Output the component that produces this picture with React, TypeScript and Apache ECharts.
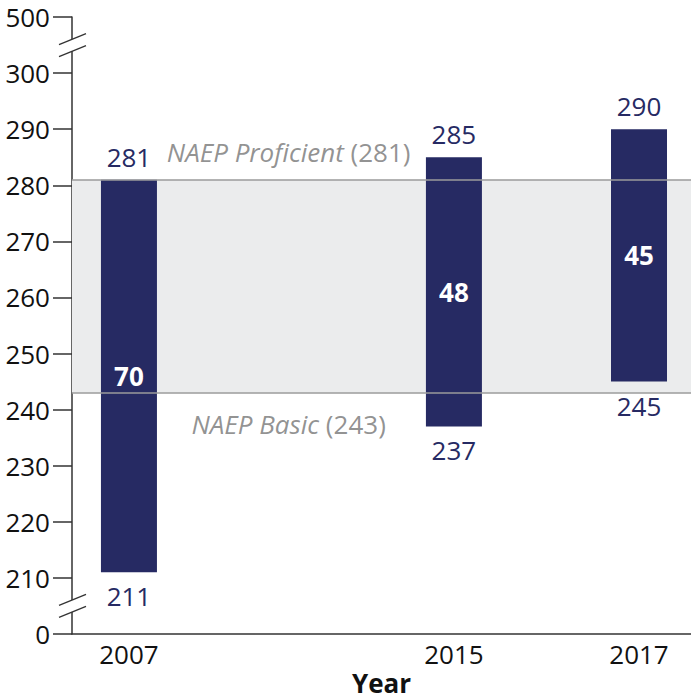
import React, { useEffect, useRef } from "react";
import * as echarts from "echarts";

// Data
const years = ["2007", "2015", "2017"];
const xSlots = [0.92, 6.17, 9.16]; // horizontal slot of each year on the axis (0..10)
const lowScores = [211, 237, 245];
const highScores = [281, 285, 290];
const gaps = [70, 48, 45];
const proficient = 281;
const basic = 243;
const yTickLabels: Record<number, string> = { 200: "0", 310: "500" };
const bandLabelSlot = 3.5;

const NAVY = "#262a63";
const FONT = "Open Sans";
const AXIS = "#333333";
const FS = 26;

export default function App() {
  const ref = useRef<HTMLDivElement>(null);
  useEffect(() => {
    if (!ref.current) return;
    document.body.style.margin = "0";
    const chart = echarts.init(ref.current, null, { renderer: "svg" });
    const barData = years.map((y, i) => [xSlots[i], lowScores[i], highScores[i], gaps[i]]);
    const option: any = {
      animation: false,
      grid: { left: 72, right: 0, top: 17, bottom: 66, containLabel: false, outerBoundsMode: "none" },
      xAxis: {
        type: "value",
        min: 0,
        max: 10,
        splitLine: { show: false },
        axisLine: { show: true, lineStyle: { color: AXIS, width: 1.5 } },
        axisTick: { show: false },
        axisLabel: {
          customValues: xSlots,
          formatter: (v: number) => {
            const i = xSlots.findIndex((s) => Math.abs(s - v) < 1e-6);
            return i >= 0 ? years[i] : "";
          },
          fontFamily: FONT,
          fontSize: FS,
          color: "#111",
          margin: 7,
        },
        name: "Year",
        nameLocation: "middle",
        nameGap: 37,
        nameMoveOverlap: false,
        nameTextStyle: { fontFamily: FONT, fontSize: FS, lineHeight: 24, fontWeight: "bold", color: "#111" },
      },
      yAxis: {
        type: "value",
        min: 200,
        max: 310,
        interval: 10,
        splitLine: { show: false },
        axisLine: { show: true, lineStyle: { color: AXIS, width: 1.5 } },
        axisTick: { show: true, inside: false, length: 19, lineStyle: { color: AXIS, width: 1.5 } },
        axisLabel: {
          formatter: (v: number) => (yTickLabels[v] !== undefined ? yTickLabels[v] : String(v)),
          fontFamily: FONT,
          fontSize: FS,
          color: "#111",
          margin: 22,
        },
      },
      series: [
        {
          type: "scatter",
          symbolSize: 0,
          silent: true,
          z: 1,
          data: [
            { value: [bandLabelSlot, proficient], label: { position: "top", distance: 15, formatter: `{i|NAEP Proficient }{n|(${proficient})}` } },
            { value: [bandLabelSlot, basic], label: { position: "bottom", distance: 18, formatter: `{i|NAEP Basic }{n|(${basic})}` } },
          ],
          label: {
            show: true,
            rich: {
              i: { fontFamily: FONT, fontSize: FS, fontStyle: "italic", color: "#767676" },
              n: { fontFamily: FONT, fontSize: FS, color: "#767676" },
            },
          },
          markArea: {
            silent: true,
            itemStyle: { color: "#ebeced" },
            data: [[{ yAxis: basic }, { yAxis: proficient }]],
          },
          markLine: {
            silent: true,
            symbol: ["none", "none"],
            label: { show: false },
            lineStyle: { color: "#9b9b9b", width: 1.5, type: "solid" },
            data: [{ yAxis: proficient }, { yAxis: basic }],
          },
        },
        {
          type: "custom",
          z: 3,
          data: barData,
          renderItem: (params: any, api: any) => {
            const x = api.value(0);
            const lo = api.value(1);
            const hi = api.value(2);
            const d = api.value(3);
            const pTop = api.coord([x, hi]);
            const pBot = api.coord([x, lo]);
            const w = 56;
            const txt = (text: string, y: number, fill: string, bold: boolean) => ({
              type: "text",
              style: {
                text,
                x: pTop[0],
                y,
                align: "center",
                verticalAlign: "middle",
                fontFamily: FONT,
                fontSize: FS,
                fontWeight: bold ? "bold" : "normal",
                fill,
              },
            });
            return {
              type: "group",
              children: [
                {
                  type: "rect",
                  shape: { x: pTop[0] - w / 2, y: pTop[1], width: w, height: pBot[1] - pTop[1] },
                  style: { fill: NAVY },
                },
                txt(String(hi), pTop[1] - 23, NAVY, false),
                txt(String(lo), pBot[1] + 24, NAVY, false),
                txt(String(d), (pTop[1] + pBot[1]) / 2, "#ffffff", true),
              ],
            };
          },
        },
      ],
    };
    chart.setOption(option);

    const ax = chart.convertToPixel({ xAxisIndex: 0 }, 0) as number;
    const breakMids = [305, 205].map((v) => chart.convertToPixel({ yAxisIndex: 0 }, v) as number);
    const graphics: any[] = [];
    breakMids.forEach((m) => {
      graphics.push({
        type: "rect",
        shape: { x: ax - 4, y: m - 6, width: 8, height: 12 },
        style: { fill: "#ffffff" },
        z: 100,
      });
      [-6, 6].forEach((off) => {
        graphics.push({
          type: "line",
          shape: { x1: ax - 13, y1: m + off + 5.5, x2: ax + 14, y2: m + off - 5.5 },
          style: { stroke: AXIS, lineWidth: 1.3 },
          z: 101,
        });
      });
    });
    chart.setOption({ graphic: graphics });

    return () => chart.dispose();
  }, []);
  return <div ref={ref} style={{ position: "absolute", left: 0, top: 0, width: 691, height: 700 }} />;
}
